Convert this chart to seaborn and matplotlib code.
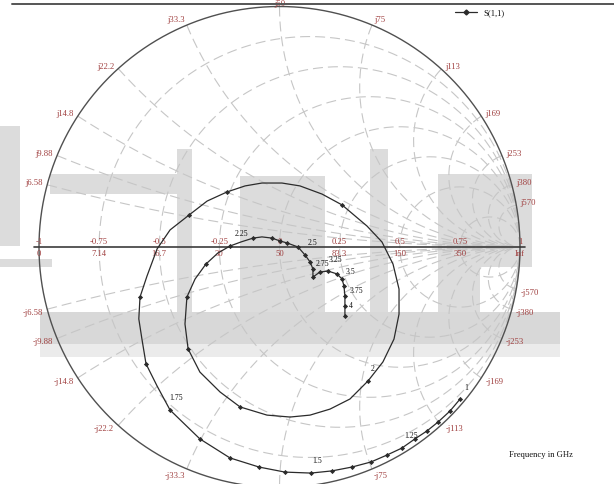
import numpy as np
import pandas as pd
import matplotlib
matplotlib.use("Agg")
import matplotlib.pyplot as plt
import seaborn as sns
from matplotlib.lines import Line2D
from matplotlib.patches import Rectangle

sns.set_theme(style="white")
plt.rcParams["font.family"] = ["Liberation Serif", "DejaVu Serif"]

# ---- S(1,1) trace: reflection coefficient, real and imaginary parts ----
s11_re = [0.751, 0.709, 0.659, 0.613, 0.563, 0.509, 0.447, 0.380, 0.301, 0.218,
          0.131, 0.023, -0.085, -0.206, -0.331, -0.455, -0.509, -0.555, -0.572, -0.585,
          -0.580, -0.551, -0.509, -0.455, -0.376, -0.301, -0.218, -0.143, -0.073, 0.010,
          0.085, 0.177, 0.260, 0.364, 0.426, 0.472, 0.497, 0.497, 0.476, 0.430,
          0.368, 0.293, 0.210, 0.127, 0.044, -0.052, -0.164, -0.247, -0.331, -0.380,
          -0.393, -0.385, -0.351, -0.306, -0.256, -0.206, -0.160, -0.110, -0.073, -0.031,
          0.002, 0.031, 0.077, 0.106, 0.127, 0.139, 0.139, 0.168, 0.202, 0.239,
          0.260, 0.268, 0.272, 0.272, 0.272]
s11_im = [-0.632, -0.682, -0.728, -0.765, -0.798, -0.836, -0.865, -0.894, -0.915, -0.931,
          -0.940, -0.936, -0.915, -0.877, -0.798, -0.678, -0.578, -0.486, -0.383, -0.299,
          -0.208, -0.121, -0.008, 0.071, 0.133, 0.191, 0.229, 0.254, 0.266, 0.266,
          0.254, 0.220, 0.175, 0.087, 0.021, -0.071, -0.175, -0.279, -0.383, -0.478,
          -0.557, -0.632, -0.674, -0.699, -0.707, -0.699, -0.665, -0.603, -0.520, -0.424,
          -0.320, -0.208, -0.133, -0.071, -0.025, 0.004, 0.021, 0.037, 0.042, 0.037,
          0.025, 0.017, 0.000, -0.033, -0.062, -0.091, -0.125, -0.104, -0.100, -0.112,
          -0.133, -0.162, -0.204, -0.245, -0.287]
# trace points that carry a symbol
marker_idx = [0, 1, 2, 3, 4, 5, 6, 7, 8, 9, 10, 11, 12, 13, 14, 15, 17, 20, 24, 26,
              32, 40, 46, 49, 51, 53, 55, 57, 59, 60, 61, 62, 63, 64, 65, 66, 67, 68,
              69, 70, 71, 72, 73, 74]
# frequency tags (GHz), the trace point each one belongs to
freq_text = ["1", "1.25", "1.5", "1.75", "2", "2.25", "2.5", "2.75", "3.25", "3.5", "3.75", "4"]
freq_idx = [0, 4, 10, 15, 40, 57, 63, 66, 67, 69, 71, 73]
freq_offset = [(6, 12), (-4, 4), (6, 13), (6, 13), (5, 13), (-12, 5),
               (8, 13), (10, 14), (16, 13), (14, 3), (12, -4), (6, 1)]

# ---- chart grid ----
z0 = 50.0
gamma_ticks = [-1, -0.75, -0.5, -0.25, 0, 0.25, 0.5, 0.75, 1]
gamma_text = ["-1", "-0.75", "-0.5", "-0.25", "0", "0.25", "0.5", "0.75", "1"]
res_text = ["0", "7.14", "16.7", "30", "50", "83.3", "150", "350", "Inf"]
react_text = ["6.58", "9.88", "14.8", "22.2", "33.3", "50", "75", "113", "169", "253", "380", "570"]

RED = "#a04040"
GRID = "#c6c6c6"
INK = "#2b2b2b"
W, H = 614.0, 485.0

fig = plt.figure(figsize=(6.14, 4.85), dpi=100)
ax = fig.add_axes([0, 0, 1, 1])
ax.set_xlim(-1.16216, 1.39085)
ax.set_ylim(-0.98545, 1.03119)
ax.set_axis_off()

# faint backdrop lettering behind the chart (pixel boxes: x0, y0, x1, y1, grey)
backdrop = [(0, 127, 20, 247, "#dcdcdc"), (50, 175, 190, 195, "#dcdcdc"),
            (0, 260, 52, 268, "#dcdcdc"), (177, 150, 192, 313, "#dcdcdc"),
            (240, 177, 325, 313, "#dcdcdc"), (370, 150, 388, 313, "#dcdcdc"),
            (438, 175, 532, 268, "#dcdcdc"), (438, 268, 480, 313, "#dcdcdc"),
            (40, 313, 560, 345, "#d8d8d8"), (40, 345, 560, 358, "#ebebeb")]
for x0, y0, x1, y1, col in backdrop:
    ax.add_patch(Rectangle((x0 / W, 1 - y1 / H), (x1 - x0) / W, (y1 - y0) / H,
                           transform=fig.transFigure, facecolor=col, edgecolor="none",
                           zorder=0))

dash = (0, (9, 4.5))


def to_gamma(z):
    return (z - 1) / (z + 1)


# constant-resistance circles
t = np.linspace(0, 2 * np.pi, 600)
for txt in res_text[1:-1]:
    r = float(txt) / z0
    c, rad = r / (1 + r), 1 / (1 + r)
    ax.plot(c + rad * np.cos(t), rad * np.sin(t), color=GRID, lw=0.8, ls=dash, zorder=1)

# constant-reactance arcs
rr = np.concatenate([[0.0], np.logspace(-3, 4, 700)])
for txt in react_text:
    x = float(txt) / z0
    for sgn in (1, -1):
        g = to_gamma(rr + 1j * sgn * x)
        ax.plot(g.real, g.imag, color=GRID, lw=0.8, ls=dash, zorder=1)

# outer boundary and real axis
ax.plot(np.cos(t), np.sin(t), color="#505050", lw=1.0, zorder=2)
ax.plot([-1.02, 1.02], [0, 0], color="#3c3c3c", lw=1.2, zorder=2)

# real-axis labels
for g, top, bot in zip(gamma_ticks, gamma_text, res_text):
    ax.annotate(top, (g, 0), xytext=(0, 6), textcoords="offset pixels",
                ha="center", va="center", fontsize=6.2, color=RED)
    ax.annotate(bot, (g, 0), xytext=(0, -6), textcoords="offset pixels",
                ha="center", va="center", fontsize=6.2, color=RED)

# rim labels for the reactance arcs
for txt in react_text:
    x = float(txt) / z0
    for sgn in (1, -1):
        g = to_gamma(1j * sgn * x)
        ang = np.angle(g)
        cx, sy = np.cos(ang), np.sin(ang)
        label = ("j" if sgn > 0 else "-j") + txt
        if abs(cx) < 0.08:
            ha, off = "center", (0, 3.5 * sgn)
        elif abs(sy) > 0.85:
            ha, off = ("left" if cx > 0 else "right"), (2 * np.sign(cx), 6 * sgn)
        else:
            ha, off = ("left" if cx > 0 else "right"), (4 * np.sign(cx), 3 * sgn)
        ax.annotate(label, (g.real, g.imag), xytext=off,
                    textcoords="offset pixels", ha=ha, va="center", fontsize=6.2, color=RED)

# the S(1,1) trace
df = pd.DataFrame({"re": s11_re, "im": s11_im})
sns.lineplot(data=df, x="re", y="im", sort=False, estimator=None, color=INK,
             lw=0.9, ax=ax, zorder=4, legend=False)
sns.scatterplot(data=df.iloc[marker_idx], x="re", y="im", marker="D", s=7,
                color=INK, linewidth=0, ax=ax, zorder=5, legend=False)

for txt, i, off in zip(freq_text, freq_idx, freq_offset):
    ax.annotate(txt, (s11_re[i], s11_im[i]), xytext=off, textcoords="offset pixels",
                ha="center", va="center", fontsize=5.6, color="#111111", zorder=6)

# legend entry
fig.add_artist(Line2D([455 / W, 477 / W], [1 - 13 / H] * 2, color=INK, lw=0.9))
fig.add_artist(Line2D([466 / W], [1 - 13 / H], color=INK, marker="D", ms=2.5, lw=0))
fig.text(483 / W, 1 - 13 / H, "S(1,1)", fontsize=6.2, color="#111111", va="center", ha="left")
fig.text(541 / W, 1 - 455 / H, "Frequency in GHz", fontsize=6.2, color="#111111",
         va="center", ha="center")

# frame line along the top
fig.add_artist(Line2D([12 / W, 1.0], [1 - 5 / H] * 2, color="#555555", lw=1.4))

fig.savefig("out.png", dpi=100)
